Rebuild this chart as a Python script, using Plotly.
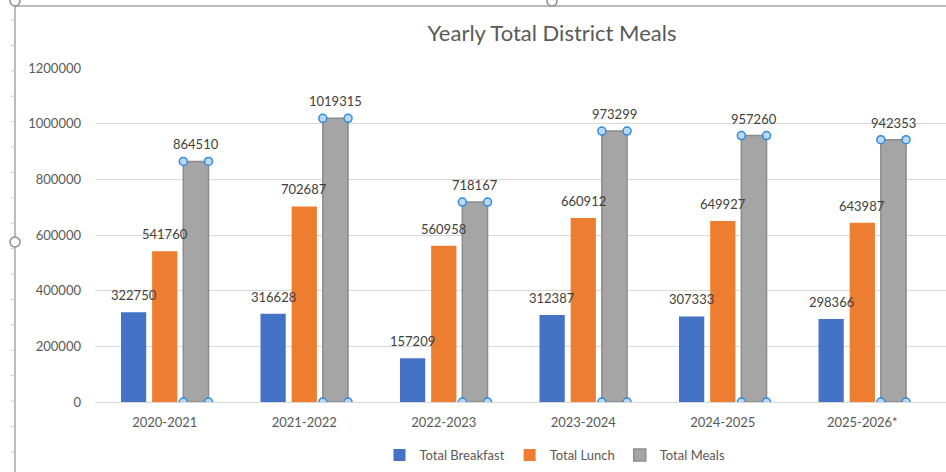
import plotly.graph_objects as go

categories = ["2020-2021", "2021-2022", "2022-2023", "2023-2024", "2024-2025", "2025-2026*"]
total_breakfast = [322750, 316628, 157209, 312387, 307333, 298366]
total_lunch = [541760, 702687, 560958, 660912, 649927, 643987]
total_meals = [864510, 1019315, 718167, 973299, 957260, 942353]
y_ticks = [0, 200000, 400000, 600000, 800000, 1000000, 1200000]

W, H = 946, 472
L, R, T, B = 95, 946, 68, 402   # plot area in screen pixels
FONT = "Lato"

xs = list(range(len(categories)))
BARGAP, GROUPGAP = 0.33, 0.19
slot = (1 - BARGAP) / 3
half_w = slot * (1 - GROUPGAP) / 2
offsets = [-slot, 0, slot]

fig = go.Figure()
fig.add_bar(x=xs, y=total_breakfast, name="Total Breakfast", marker_color="#4472C4",
            marker_line_width=0)
fig.add_bar(x=xs, y=total_lunch, name="Total Lunch", marker_color="#ED7D31",
            marker_line_width=0)
fig.add_bar(x=xs, y=total_meals, name="Total Meals", marker_color="#A5A5A5",
            marker_line=dict(color="#8C8C8C", width=1.5))

# data labels
ann = []
for series, off in zip([total_breakfast, total_lunch, total_meals], offsets):
    for i, v in enumerate(series):
        ann.append(dict(x=i + off, y=v, text=str(v), showarrow=False, yanchor="bottom",
                        yshift=7, font=dict(family=FONT, size=13, color="#404040")))

# selection handles on the gray series
hx, hy = [], []
for i, v in enumerate(total_meals):
    for dx in (offsets[2] - half_w, offsets[2] + half_w):
        for yv in (0, v):
            hx.append(i + dx)
            hy.append(yv)
fig.add_scatter(x=hx, y=hy, mode="markers", showlegend=False, hoverinfo="skip",
                marker=dict(size=8, color="#BDD7EE", line=dict(color="#2E8BE0", width=1.5)))


# frame decoration (Excel selection border), screen pixel -> paper
def px_x(p):
    return (p - L) / (R - L)


def px_y(p):
    return (B - p) / (B - T)


shapes = [
    dict(type="line", xref="paper", yref="paper", x0=px_x(15), x1=px_x(15), y0=px_y(6), y1=px_y(472),
         line=dict(color="#A6A6A6", width=1.5)),
    dict(type="line", xref="paper", yref="paper", x0=px_x(15), x1=px_x(946), y0=px_y(6), y1=px_y(6),
         line=dict(color="#A6A6A6", width=1.5)),
]
p = 20.0
while p < 472:
    shapes.append(dict(type="line", xref="paper", yref="paper", x0=px_x(11), x1=px_x(15),
                       y0=px_y(p), y1=px_y(p), line=dict(color="#C8C8C8", width=1)))
    p += 25.4
for cx, cy in [(15, 242), (552, 1), (15, 1)]:
    shapes.append(dict(type="circle", xref="paper", yref="paper",
                       x0=px_x(cx - 5), x1=px_x(cx + 5), y0=px_y(cy - 5), y1=px_y(cy + 5),
                       fillcolor="white", line=dict(color="#8C8C8C", width=1.5)))

fig.update_layout(
    width=W, height=H,
    margin=dict(l=L, r=W - R, t=T, b=H - B),
    paper_bgcolor="white", plot_bgcolor="white",
    barmode="group", bargap=BARGAP, bargroupgap=GROUPGAP,
    title=dict(text="Yearly Total District Meals", x=552 / W, xanchor="center",
               y=1 - 33 / H, yanchor="middle", yref="container",
               font=dict(family=FONT, size=22, color="#595959")),
    font=dict(family=FONT, size=13, color="#595959"),
    xaxis=dict(tickmode="array", tickvals=xs, ticktext=categories, range=[-0.5, 5.6],
               showgrid=False, zeroline=False, showline=True, linecolor="#D9D9D9",
               ticks="", ticklabelstandoff=8,
               tickfont=dict(family=FONT, size=13, color="#595959")),
    yaxis=dict(range=[0, 1200000], tickvals=y_ticks, ticktext=[str(v) for v in y_ticks],
               showgrid=True, gridcolor="#D9D9D9", gridwidth=1, zeroline=False,
               showline=False, ticks="", ticklabelstandoff=13,
               tickfont=dict(family=FONT, size=13, color="#595959")),
    legend=dict(orientation="h", x=px_x(555), xanchor="center",
                y=px_y(455), yanchor="middle", font=dict(family=FONT, size=13, color="#595959"),
                itemwidth=30, traceorder="normal"),
    annotations=ann,
    shapes=shapes,
)

fig.write_html("out.html", config={"displayModeBar": False},
               post_script="document.body.style.margin='0';document.body.style.overflow='hidden';")
